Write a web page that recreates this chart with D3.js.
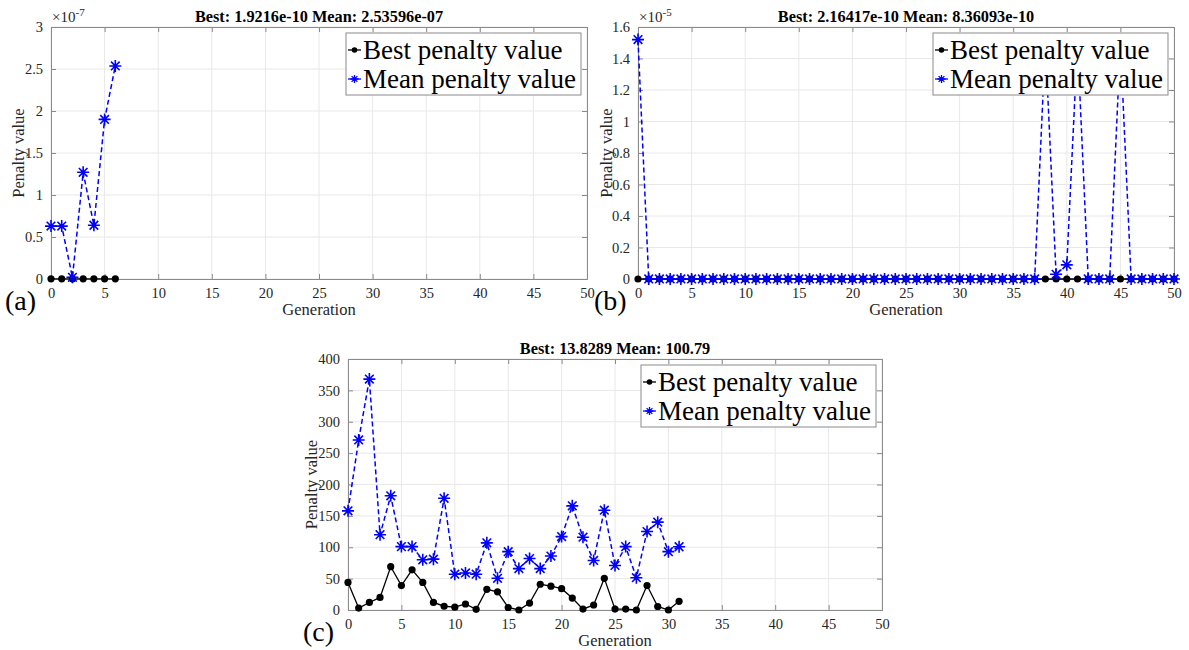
<!DOCTYPE html>
<html>
<head>
<meta charset="utf-8">
<script src="https://cdn.jsdelivr.net/npm/d3@7"></script>
<style>
  body { margin: 0; background: #fff; }
  svg { display: block; }
  svg text { font-family: "Liberation Serif", "DejaVu Serif", serif !important; }
</style>
</head>
<body>
<svg id="chart" width="1189" height="650"></svg>
<script>
// (a) seven generations
let bestA = [2e-10, 2e-10, 2e-10, 2e-10, 2e-10, 2e-10, 1.9216e-10];
let meanA = [0.63e-7, 0.63e-7, 0.02e-7, 1.27e-7, 0.64e-7, 1.9e-7, 2.53596e-7];
let yTicksA = [0, 0.5e-7, 1e-7, 1.5e-7, 2e-7, 2.5e-7, 3e-7];

// (b) 51 generations
let bestB = [2.2e-10, 2.2e-10, 2.2e-10, 2.2e-10, 2.2e-10, 2.2e-10, 2.2e-10, 2.2e-10, 2.2e-10, 2.2e-10,
    2.2e-10, 2.2e-10, 2.2e-10, 2.2e-10, 2.2e-10, 2.2e-10, 2.2e-10, 2.2e-10, 2.2e-10, 2.2e-10,
    2.2e-10, 2.2e-10, 2.2e-10, 2.2e-10, 2.2e-10, 2.2e-10, 2.2e-10, 2.2e-10, 2.2e-10, 2.2e-10,
    2.2e-10, 2.2e-10, 2.2e-10, 2.2e-10, 2.2e-10, 2.2e-10, 2.2e-10, 2.2e-10, 2.2e-10, 2.2e-10,
    2.2e-10, 2.2e-10, 2.2e-10, 2.2e-10, 2.2e-10, 2.2e-10, 2.2e-10, 2.2e-10, 2.2e-10, 2.2e-10,
    2.16417e-10];
let meanB = [1.52e-5, 1e-9, 1e-9, 1e-9, 1e-9, 1e-9, 1e-9, 1e-9, 1e-9, 1e-9,
    1e-9, 1e-9, 1e-9, 1e-9, 1e-9, 1e-9, 1e-9, 1e-9, 1e-9, 1e-9,
    1e-9, 1e-9, 1e-9, 1e-9, 1e-9, 1e-9, 1e-9, 1e-9, 1e-9, 1e-9,
    1e-9, 1e-9, 1e-9, 1e-9, 1e-9, 1e-9, 1e-9, 1e-9, 1.5e-5, 0.03e-5,
    0.09e-5, 1.5e-5, 1e-9, 1e-9, 1e-9, 1.5e-5, 1e-9, 1e-9, 1e-9, 1e-9,
    8.36093e-10];
let yTicksB = [0, 0.2e-5, 0.4e-5, 0.6e-5, 0.8e-5, 1e-5, 1.2e-5, 1.4e-5, 1.6e-5];

// (c) 32 generations
let bestC = [44, 3, 12, 20, 69, 39, 64, 44, 12, 6, 4.5, 9.6, 1, 33, 29, 4,
    0, 11, 41, 38, 34, 19, 1.4, 8, 50.5, 1.4, 1.4, 0, 39, 5.6, 0, 13.8289];
let meanC = [158, 271, 368, 120, 182, 101, 101, 80, 81, 178, 57, 59, 57, 107, 50.5, 93,
    66, 82, 66, 86, 117, 166, 116, 79, 159, 71, 101, 51.5, 125, 140, 93, 100.79];
let yTicksC = [0, 50, 100, 150, 200, 250, 300, 350, 400];

let xTicks = [0, 5, 10, 15, 20, 25, 30, 35, 40, 45, 50];
let legendNames = ["Best penalty value", "Mean penalty value"];

let panels = [
    {id: "(a)", best: bestA, mean: meanA, yTicks: yTicksA, yMax: 3e-7, scale: 1e-7, exp: "-7", yLab: 33, idOff: 46,
        title: "Best: 1.9216e-10 Mean: 2.53596e-07", left: 51, right: 587, top: 27, bottom: 279},
    {id: "(b)", best: bestB, mean: meanB, yTicks: yTicksB, yMax: 1.6e-5, scale: 1e-5, exp: "-5", yLab: 32, idOff: 44,
        title: "Best: 2.16417e-10 Mean: 8.36093e-10", left: 638, right: 1174, top: 27, bottom: 279},
    {id: "(c)", best: bestC, mean: meanC, yTicks: yTicksC, yMax: 400, scale: 1, exp: null, yLab: 37, idOff: 45,
        title: "Best: 13.8289 Mean: 100.79", left: 348, right: 882, top: 359, bottom: 610}
];

let svg = d3.select("#chart");
let axisColor = "#8a8a8a", textColor = "#262626", gridColor = "#e8e8e8";

function starPath(r) {
    let d = r * 0.72;
    return `M${-r},0L${r},0M0,${-r}L0,${r}M${-d},${-d}L${d},${d}M${-d},${d}L${d},${-d}`;
}

function drawPanel(p) {
    let x = d3.scaleLinear().domain([0, 50]).range([p.left, p.right]);
    let y = d3.scaleLinear().domain([0, p.yMax]).range([p.bottom, p.top]);
    let g = svg.append("g");
    let fmt = v => String(+(v / p.scale).toFixed(2));

    //Grid
    g.selectAll(".gx").data(xTicks).enter().append("line")
        .attr("x1", d => x(d)).attr("x2", d => x(d)).attr("y1", p.top).attr("y2", p.bottom)
        .attr("stroke", gridColor).attr("stroke-width", 1);
    g.selectAll(".gy").data(p.yTicks).enter().append("line")
        .attr("x1", p.left).attr("x2", p.right).attr("y1", d => y(d)).attr("y2", d => y(d))
        .attr("stroke", gridColor).attr("stroke-width", 1);

    //Box and inward ticks (bottom/left via d3 axes, mirrored on top/right)
    let xAxis = g.append("g").attr("transform", `translate(0, ${p.bottom})`)
        .call(d3.axisBottom(x).tickValues(xTicks).tickSize(-5).tickPadding(9).tickFormat(d3.format("d")));
    let xAxisTop = g.append("g").attr("transform", `translate(0, ${p.top})`)
        .call(d3.axisTop(x).tickValues(xTicks).tickSize(-5).tickFormat(""));
    let yAxis = g.append("g").attr("transform", `translate(${p.left}, 0)`)
        .call(d3.axisLeft(y).tickValues(p.yTicks).tickSize(-5).tickPadding(8).tickFormat(fmt));
    let yAxisRight = g.append("g").attr("transform", `translate(${p.right}, 0)`)
        .call(d3.axisRight(y).tickValues(p.yTicks).tickSize(-5).tickFormat(""));
    [xAxis, xAxisTop, yAxis, yAxisRight].forEach(a => {
        a.attr("font-family", null);
        a.select(".domain").attr("stroke", axisColor);
        a.selectAll(".tick line").attr("stroke", axisColor);
        a.selectAll("text").attr("fill", textColor).style("font-size", "14.5px");
    });

    //Series
    let line = d3.line().x((d, i) => x(i)).y(d => y(d));
    g.append("path").datum(p.best).attr("d", line).attr("fill", "none")
        .attr("stroke", "#000").attr("stroke-width", 1.3);
    g.selectAll(".dot").data(p.best).enter().append("circle")
        .attr("cx", (d, i) => x(i)).attr("cy", d => y(d)).attr("r", 3.6).attr("fill", "#000");
    g.append("path").datum(p.mean).attr("d", line).attr("fill", "none")
        .attr("stroke", "#0000ff").attr("stroke-width", 1.5).attr("stroke-dasharray", "5,3");
    g.selectAll(".star").data(p.mean).enter().append("path")
        .attr("transform", (d, i) => `translate(${x(i)}, ${y(d)})`)
        .attr("d", starPath(6)).attr("fill", "none").attr("stroke", "#0000ff").attr("stroke-width", 1.6);

    //Title and labels
    g.append("text").attr("x", (p.left + p.right) / 2).attr("y", p.top - 5)
        .attr("text-anchor", "middle").style("font-size", "16.3px").style("font-weight", "bold")
        .attr("fill", "#000").text(p.title);
    g.append("text").attr("x", (p.left + p.right) / 2).attr("y", p.bottom + 36)
        .attr("text-anchor", "middle").style("font-size", "16.5px").attr("fill", textColor).text("Generation");
    g.append("text").attr("transform", `translate(${p.left - p.yLab}, ${(p.top + p.bottom) / 2}) rotate(-90)`)
        .attr("text-anchor", "middle").attr("dy", "0.35em").style("font-size", "16.5px").attr("fill", textColor).text("Penalty value");
    if (p.exp) {
        let e = g.append("text").attr("x", p.left + 1).attr("y", p.top - 5)
            .style("font-size", "15px").attr("fill", textColor);
        e.append("tspan").text("\u00d710");
        e.append("tspan").attr("dy", -6).style("font-size", "11px").text(p.exp);
    }
    g.append("text").attr("x", p.left - p.idOff).attr("y", p.bottom + 31)
        .style("font-size", "28px").attr("fill", "#000").text(p.id);

    //Legend
    let lw = 235, lh = 62;
    let lx = p.right - 6 - lw, ly = p.top + 6;
    let leg = g.append("g").attr("transform", `translate(${lx}, ${ly})`);
    leg.append("rect").attr("width", lw).attr("height", lh).attr("fill", "#fff")
        .attr("stroke", "#8a8a8a").attr("stroke-width", 1);
    legendNames.forEach((name, i) => {
        let cy = 17 + i * 29;
        leg.append("line").attr("x1", 2).attr("x2", 15).attr("y1", cy).attr("y2", cy)
            .attr("stroke", i ? "#0000ff" : "#000").attr("stroke-width", 1.3);
        if (i) {
            leg.append("path").attr("transform", `translate(8.5, ${cy})`).attr("d", starPath(4))
                .attr("fill", "none").attr("stroke", "#0000ff").attr("stroke-width", 1.3);
        } else {
            leg.append("circle").attr("cx", 8.5).attr("cy", cy).attr("r", 2.8).attr("fill", "#000");
        }
        leg.append("text").attr("x", 17).attr("y", cy + 9).style("font-size", "27px")
            .attr("fill", "#000").text(name);
    });
}

panels.forEach(drawPanel);
</script>
</body>
</html>
